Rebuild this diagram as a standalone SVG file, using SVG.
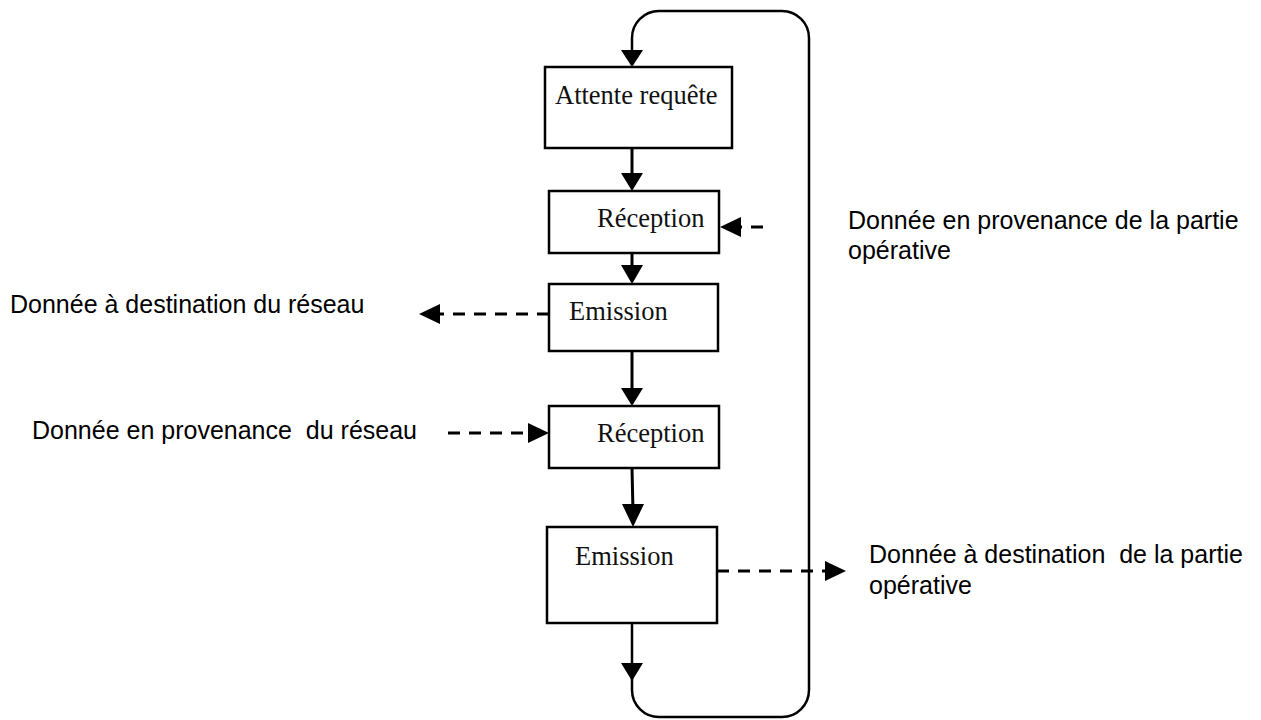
<svg xmlns="http://www.w3.org/2000/svg" width="1261" height="720" viewBox="0 0 1261 720">
  <style>
    .box { fill: #ffffff; stroke: #000000; stroke-width: 2.5; }
    .lbl { font-family: "Liberation Serif", "Times New Roman", serif; font-size: 26.5px; fill: #111111; }
    .note { font-family: "Liberation Sans", Arial, sans-serif; font-size: 25px; fill: #000000; }
    .flow { fill: none; stroke: #000000; stroke-width: 3; }
    .loop { fill: none; stroke: #000000; stroke-width: 2.5; }
    .dash { fill: none; stroke: #000000; stroke-width: 3; stroke-dasharray: 12 9; }
    .head { fill: #000000; stroke: none; }
  </style>
  <rect width="1261" height="720" fill="#ffffff"/>

  <!-- connectors -->
  <g id="connectors">
    <!-- return loop from the last step back to the top -->
    <path class="loop" d="M632,623 V690 A27,27 0 0 0 659,717 H782 A27,27 0 0 0 809,690 V38 A27,27 0 0 0 782,11 H659 A27,27 0 0 0 632,38 V60"/>
    <polygon class="head" points="621,663 643,663 632,681"/>
    <polygon class="head" points="621,50 643,50 632,67"/>

    <!-- main sequence -->
    <line class="flow" x1="632" y1="148" x2="632" y2="180"/>
    <polygon class="head" points="621,173 643,173 632,191"/>
    <line class="flow" x1="632" y1="253" x2="632" y2="272"/>
    <polygon class="head" points="621,265 643,265 632,284"/>
    <line class="flow" x1="632" y1="351" x2="632" y2="395"/>
    <polygon class="head" points="621,388 643,388 632,406"/>
    <line class="flow" x1="632" y1="468" x2="633" y2="512"/>
    <polygon class="head" points="622,504 644,504 633,527"/>

    <!-- data exchanges -->
    <line class="dash" x1="763" y1="227" x2="738" y2="227"/>
    <polygon class="head" points="720,227 741,217 741,237"/>

    <line class="dash" x1="549" y1="314" x2="436" y2="314"/>
    <polygon class="head" points="419,314 440,304 440,324"/>

    <line class="dash" x1="448" y1="433" x2="532" y2="433"/>
    <polygon class="head" points="549,433 528,423 528,443"/>

    <line class="dash" x1="717" y1="571" x2="828" y2="571"/>
    <polygon class="head" points="846,571 825,561 825,581"/>
  </g>

  <!-- steps -->
  <g id="attente">
    <rect class="box" x="545" y="67" width="187" height="81"/>
    <text class="lbl" x="555" y="104">Attente requête</text>
  </g>
  <g id="reception1">
    <rect class="box" x="549" y="191" width="170" height="62"/>
    <text class="lbl" x="597" y="227">Réception</text>
  </g>
  <g id="emission1">
    <rect class="box" x="549" y="284" width="169" height="67"/>
    <text class="lbl" x="569" y="320">Emission</text>
  </g>
  <g id="reception2">
    <rect class="box" x="549" y="406" width="170" height="62"/>
    <text class="lbl" x="597" y="442">Réception</text>
  </g>
  <g id="emission2">
    <rect class="box" x="547" y="527" width="170" height="96"/>
    <text class="lbl" x="575" y="565">Emission</text>
  </g>

  <!-- data labels -->
  <g id="in-operative">
    <text class="note" x="848" y="229">Donnée en provenance de la partie</text>
    <text class="note" x="848" y="259">opérative</text>
  </g>
  <g id="out-network">
    <text class="note" x="10" y="313">Donnée à destination du réseau</text>
  </g>
  <g id="in-network">
    <text class="note" x="32" y="439" xml:space="preserve">Donnée en provenance  du réseau</text>
  </g>
  <g id="out-operative">
    <text class="note" x="869" y="563" xml:space="preserve">Donnée à destination  de la partie</text>
    <text class="note" x="869" y="594">opérative</text>
  </g>
</svg>
